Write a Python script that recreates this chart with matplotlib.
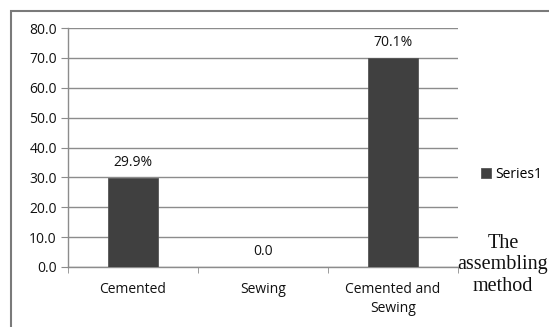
import matplotlib
matplotlib.use("Agg")
import matplotlib.pyplot as plt
from matplotlib.patches import Rectangle

categories = ["Cemented", "Sewing", "Cemented and\nSewing"]
values = [29.9, 0.0, 70.1]
yticks = [0, 10, 20, 30, 40, 50, 60, 70, 80]
series_name = "Series1"
axis_title = "The\nassembling\nmethod"

W, H = 549, 327
fig = plt.figure(figsize=(W / 100, H / 100), dpi=100)
fig.patch.set_facecolor("white")

# outer frame
fig.patches.append(Rectangle((10.5 / W, -0.1), 1.2, (H - 10.5) / H + 0.1,
                             transform=fig.transFigure, fill=False,
                             edgecolor="#7a7a7a", linewidth=1.5))

ax = fig.add_axes([68 / W, 1 - 267 / H, 390 / W, 239 / H])
x = list(range(len(categories)))
bars = ax.bar(x, values, width=0.39, color="#404040", edgecolor="#555555",
              linewidth=0.6, zorder=3, label=series_name)

ax.set_xlim(-0.5, len(categories) - 0.5)
ax.set_ylim(0, 80)
ax.set_yticks(yticks)
ax.set_yticklabels([f"{t:.1f}" for t in yticks])
ax.set_xticks(x)
ax.set_xticklabels(categories, linespacing=1.35)
ax.set_xticks([i - 0.5 for i in range(len(categories) + 1)], minor=True)

ax.grid(axis="y", color="#8c8c8c", linewidth=1.0, zorder=0)
for s in ["top", "right"]:
    ax.spines[s].set_visible(False)
for s in ["left", "bottom"]:
    ax.spines[s].set_color("#8c8c8c")
    ax.spines[s].set_linewidth(1.0)

txt_color = "#111111"
font = {"family": "Open Sans", "size": 10, "color": txt_color}
ax.tick_params(axis="y", which="major", length=5, color="#8c8c8c",
               labelsize=10, labelcolor=txt_color, pad=3)
ax.tick_params(axis="x", which="major", length=0, labelsize=10,
               labelcolor=txt_color, pad=11)
ax.tick_params(axis="x", which="minor", length=4, color="#8c8c8c")
for lbl in ax.get_xticklabels() + ax.get_yticklabels():
    lbl.set_fontfamily("Open Sans")

for xi, v in zip(x, values):
    txt = f"{v:.1f}%" if v else f"{v:.1f}"
    ax.annotate(txt, (xi, v), xytext=(0, 11), textcoords="offset points",
                ha="center", va="center", **font)

fig.legend(handles=[bars], labels=[series_name], loc="center left",
           bbox_to_anchor=(481 / W, 1 - 174 / H), frameon=False,
           borderaxespad=0, borderpad=0,
           handlelength=0.75, handleheight=0.75, handletextpad=0.3,
           prop={"family": "Open Sans", "size": 10})

fig.text(503 / W, 1 - 265 / H, axis_title, ha="center", va="center",
         family="Liberation Serif", fontsize=14.5, linespacing=1.2,
         color=txt_color)

fig.savefig("out.png", dpi=100)
